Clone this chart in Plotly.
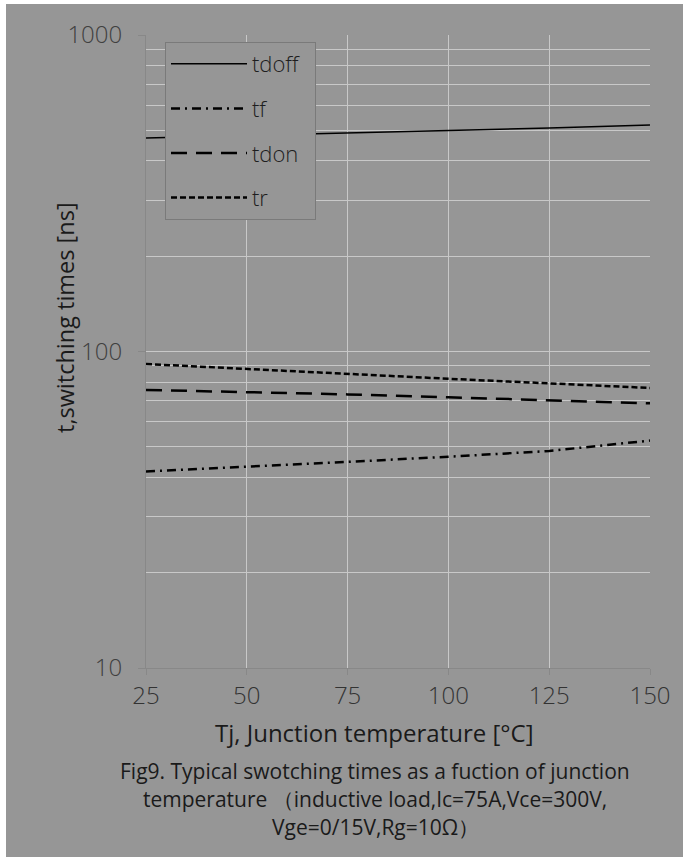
import plotly.graph_objects as go

tj = [25, 50, 75, 100, 125, 150]
tdoff = [473, 481, 490, 498, 508, 520]
tf = [41.8, 43.2, 44.8, 46.5, 48.5, 52.3]
tdon = [75.6, 74.5, 73.2, 71.7, 70.3, 68.6]
tr = [91.3, 88.0, 85.0, 82.0, 79.3, 76.7]

series_names = ["tdoff", "tf", "tdon", "tr"]
legend_labels = ["tdoff\u00a0\u00a0", "tf", "tdon", "tr"]
x_ticks = [25, 50, 75, 100, 125, 150]
y_ticks = [10, 100, 1000]

BG = "#969696"
GRID = "#c8c8c8"
FONT = "Open Sans"

styles = {
    "tdoff": dict(dash="solid", width=1.5),
    "tf": dict(dash="9px,5px,2px,5px", width=2.5),
    "tdon": dict(dash="16px,9px", width=2.5),
    "tr": dict(dash="6px,3px", width=2.5),
}
data = {"tdoff": tdoff, "tf": tf, "tdon": tdon, "tr": tr}

fig = go.Figure()
for name, label in zip(series_names, legend_labels):
    fig.add_trace(go.Scatter(
        x=tj, y=data[name], mode="lines", name=label,
        legendgroup=name,
        line=dict(color="#000000", **styles[name]),
    ))

W, H = 683, 857
L, R, T, B = 146, 650, 35, 668
pw, ph = R - L, B - T

def px(xp):
    return (xp - L) / pw

def py(yp):
    return (B - yp) / ph

fig.update_layout(
    width=W, height=H,
    margin=dict(l=L, r=W - R, t=T, b=H - B),
    paper_bgcolor="#ffffff",
    plot_bgcolor=BG,
    font=dict(family=FONT, color="#222222"),
    showlegend=True,
    legend=dict(
        x=px(165), y=py(42), xanchor="left", yanchor="top",
        bgcolor=BG, bordercolor="#7a7a7a", borderwidth=1,
        font=dict(size=22, color="#1e1e1e", family=FONT, weight=300),
        itemwidth=76, tracegroupgap=13, traceorder="grouped",
    ),
    xaxis=dict(
        range=[25, 150], tickvals=x_ticks, ticktext=[str(v) for v in x_ticks],
        showgrid=True, gridcolor=GRID, gridwidth=1,
        showline=True, linecolor="#888888", linewidth=1,
        ticks="outside", ticklen=6, tickcolor="#888888",
        tickfont=dict(size=24, color="#333333", family=FONT, weight=300),
        zeroline=False,
    ),
    yaxis=dict(
        type="log", range=[1, 3], tickvals=y_ticks, ticktext=[str(v) for v in y_ticks],
        showgrid=True, gridcolor=GRID, gridwidth=1,
        showline=True, linecolor="#888888", linewidth=1,
        ticks="outside", ticklen=7, tickcolor="#888888",
        tickfont=dict(size=24, color="#404040", family=FONT, weight=300),
        ticklabelstandoff=11,
        minor=dict(dtick="D1", showgrid=True, gridcolor=GRID, gridwidth=1, ticks=""),
        zeroline=False,
    ),
    shapes=[dict(
        type="rect", xref="paper", yref="paper",
        x0=px(6), x1=px(W + 5), y0=py(H + 5), y1=py(4),
        fillcolor=BG, line=dict(width=0), layer="below",
    )],
)

anns = [
    dict(text="Tj, Junction temperature [°C]", x=px(374), y=py(732), size=24),
    dict(text="Fig9. Typical swotching times as a fuction of junction", x=px(375), y=py(771), size=21),
    dict(text="temperature （inductive load,Ic=75A,Vce=300V,", x=px(375), y=py(799), size=21),
    dict(text="Vge=0/15V,Rg=10Ω）", x=px(375), y=py(827), size=21),
]
for a in anns:
    fig.add_annotation(text=a["text"], x=a["x"], y=a["y"], xref="paper", yref="paper",
                       xanchor="center", yanchor="middle", showarrow=False,
                       font=dict(size=a["size"], color="#1a1a1a", family=FONT))
fig.add_annotation(text="t,switching times [ns]", x=px(65), y=py(318), xref="paper", yref="paper",
                   xanchor="center", yanchor="middle", showarrow=False, textangle=-90,
                   font=dict(size=23.5, color="#1a1a1a", family=FONT))

fig.write_html("out.html", config={"displayModeBar": False},
               post_script="document.body.style.margin='0';document.body.style.overflow='hidden';")
